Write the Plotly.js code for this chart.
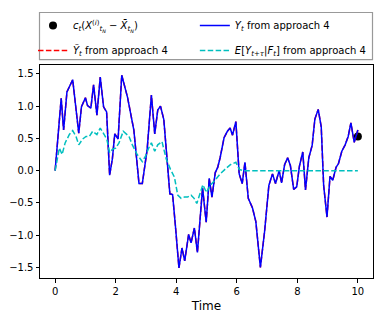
<!DOCTYPE html>
<html>
<head>
<meta charset="utf-8">
<script src="https://cdn.plot.ly/plotly-3.0.1.min.js"></script>
<style>html,body{margin:0;padding:0;background:#fff;}#chart{width:384px;height:319px;}</style>
</head>
<body>
<div id="chart"></div>
<script>
// Y_t from approach 4
const yTime = [0,0.2,0.28,0.39,0.58,0.78,0.87,1.0,1.07,1.18,1.27,1.38,1.49,1.6,1.7,1.8,1.89,1.97,2.08,2.2,2.39,2.6,2.77,2.88,3.04,3.18,3.29,3.39,3.48,3.59,3.79,3.88,3.97,4.09,4.19,4.28,4.41,4.49,4.6,4.7,4.87,4.99,5.09,5.18,5.29,5.37,5.45,5.58,5.69,5.78,5.86,5.97,6.08,6.18,6.27,6.38,6.52,6.63,6.78,6.92,7.06,7.18,7.28,7.40,7.48,7.58,7.68,7.77,7.88,7.98,8.07,8.18,8.27,8.38,8.49,8.58,8.69,8.79,8.87,8.98,9.08,9.17,9.28,9.36,9.47,9.58,9.68,9.77,9.88,10.0];
const yValues = [0,1.12,0.63,1.22,1.41,0.58,0.99,1.13,1.01,0.97,1.33,0.86,1.45,0.99,0.91,-0.07,0.18,0.57,0.49,1.48,1.14,0.63,-0.2,-0.2,0.33,1.17,0.57,0.94,1.0,0.79,-0.36,-0.37,-0.84,-1.51,-1.2,-1.4,-0.99,-1.12,-0.89,-1.27,-0.27,-0.8,-0.12,-0.41,-0.03,0.05,0.2,0.51,0.61,0.66,0.55,0.76,-0.05,-0.2,0.13,-0.43,-0.58,-0.79,-1.5,-0.94,-0.23,-0.05,-0.2,0.0,-0.19,0.09,0.2,0.08,-0.29,-0.25,0.07,0.29,-0.3,0.2,0.39,0.8,0.95,0.68,-0.23,-0.72,-0.09,-0.15,0.05,0.11,0.3,0.4,0.53,0.74,0.44,0.63];
// Ỹ_t from approach 4 (coincides with Y_t in the picture)
const yHatTime = yTime.slice();
const yHatValues = yValues.slice();
// E[Y_{t+tau}|F_t] from approach 4
const eTime = [0,0.14,0.23,0.33,0.47,0.58,0.69,0.78,0.91,1.02,1.13,1.24,1.38,1.49,1.62,1.71,1.80,1.89,2.0,2.11,2.25,2.33,2.44,2.55,2.71,2.88,2.99,3.09,3.18,3.29,3.39,3.53,3.67,3.81,3.94,4.05,4.16,4.27,4.37,4.49,4.59,4.68,4.79,4.88,5.0,5.12,5.28,5.45,5.61,5.78,5.97,6.08,6.2,7,8,9,10];
const eValues = [0,0.35,0.25,0.43,0.56,0.62,0.53,0.40,0.49,0.53,0.53,0.61,0.56,0.66,0.56,0.48,0.28,0.33,0.35,0.43,0.61,0.58,0.53,0.40,0.25,0.14,0.23,0.35,0.43,0.30,0.40,0.45,0.18,0.02,-0.10,-0.38,-0.43,-0.41,-0.41,-0.38,-0.43,-0.51,-0.36,-0.22,-0.34,-0.23,-0.15,-0.05,0.02,0.09,0.13,0.02,0,0,0,0,0];
// terminal point
const dotTime = [10];
const dotValue = [0.53];

const legendNames = {
  dot: '<i>c<sub>t</sub></i>(<i>X</i><sup>(<i>i</i>)</sup><sub><i>t<sub>N</sub></i></sub> − <i>X̄</i><sub><i>t<sub>N</sub></i></sub>)',
  yhat: '<i>Ỹ<sub>t</sub></i> from approach 4',
  y: '<i>Y<sub>t</sub></i> from approach 4',
  e: '<i>E</i>[<i>Y<sub>t+τ</sub></i>|<i>F<sub>t</sub></i>] from approach 4'
};

const traces = [
  {x: dotTime, y: dotValue, mode: 'markers', name: legendNames.dot, legend: 'legend', legendgroup: 'a', legendrank: 1,
   cliponaxis: false, marker: {color: '#000', size: 8}},
  {x: yHatTime, y: yHatValues, mode: 'lines', name: legendNames.yhat, legend: 'legend', legendgroup: 'b', legendrank: 2,
   line: {color: '#ff0000', width: 1.5, dash: '5.5px,2.4px'}},
  {x: yTime, y: yValues, mode: 'lines', name: legendNames.y, legend: 'legend2', legendgroup: 'c', legendrank: 1,
   line: {color: '#0000ff', width: 1.5}},
  {x: eTime, y: eValues, mode: 'lines', name: legendNames.e, legend: 'legend2', legendgroup: 'd', legendrank: 2,
   line: {color: '#00bfbf', width: 1.5, dash: '5.5px,2.4px'}}
];

const axisCommon = {
  showgrid: false, zeroline: false, showline: true, mirror: true,
  linecolor: '#000', linewidth: 1, ticks: 'outside', ticklen: 3.5, tickwidth: 1,
  tickcolor: '#000', tickfont: {family: 'DejaVu Sans', size: 10, color: '#000'}
};

const legendCommon = {
  orientation: 'v', xanchor: 'left', yanchor: 'top', y: 1.254,
  traceorder: 'grouped', tracegroupgap: 6,
  bgcolor: 'rgba(0,0,0,0)', borderwidth: 0,
  font: {family: 'DejaVu Sans', size: 10, color: '#000'}
};

const layout = {
  width: 384, height: 319,
  margin: {l: 40, r: 11, t: 61, b: 41, pad: 0},
  paper_bgcolor: '#fff', plot_bgcolor: '#fff',
  font: {family: 'DejaVu Sans', size: 10, color: '#000'},
  xaxis: Object.assign({}, axisCommon, {
    range: [-0.5, 10.5], tickvals: [0, 2, 4, 6, 8, 10],
    title: {text: 'Time', font: {family: 'DejaVu Sans', size: 12, color: '#000'}, standoff: 6}
  }),
  yaxis: Object.assign({}, axisCommon, {
    range: [-1.665, 1.638], tickvals: [-1.5, -1, -0.5, 0, 0.5, 1, 1.5], tickformat: '.1f'
  }),
  showlegend: true,
  legend: Object.assign({}, legendCommon, {x: -0.021}),
  legend2: Object.assign({}, legendCommon, {x: 0.465}),
  shapes: [{
    type: 'rect', xref: 'paper', yref: 'paper', layer: 'above',
    x0: -0.0015, x1: 0.9985, y0: 1.0253, y1: 1.2465,
    line: {color: '#999999', width: 1.2}, fillcolor: 'rgba(0,0,0,0)'
  }]
};

Plotly.newPlot('chart', traces, layout, {displayModeBar: false, staticPlot: true});
</script>
</body>
</html>
